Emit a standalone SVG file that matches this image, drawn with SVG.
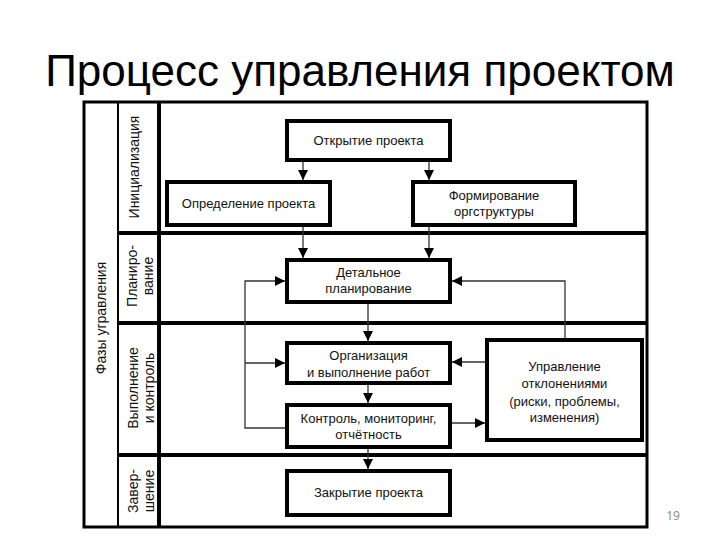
<svg xmlns="http://www.w3.org/2000/svg" width="720" height="540" viewBox="0 0 720 540">
<defs>
<marker id="arr" markerUnits="userSpaceOnUse" markerWidth="10" markerHeight="10" refX="10" refY="5" orient="auto">
<path d="M0,0 L10,5 L0,10 z" fill="#000"/>
</marker>
<style>
.box{fill:#fff;stroke:#000;stroke-width:4}
.t{font-family:"Liberation Sans",Arial,sans-serif;font-size:13px;fill:#111;text-anchor:middle}
.lane{font-family:"Liberation Sans",Arial,sans-serif;font-size:14px;fill:#111;text-anchor:middle}
.c{fill:none;stroke:#333;stroke-width:1.3}
.ca{fill:none;stroke:#333;stroke-width:1.3;marker-end:url(#arr)}
</style>
</defs>
<rect width="720" height="540" fill="#fff"/>
<text x="360" y="86" font-family="'Liberation Sans',Arial,sans-serif" font-size="44" text-anchor="middle" fill="#000">Процесс управления проектом</text>
<text x="673" y="520" font-family="'Open Sans','Liberation Sans',sans-serif" font-size="12" text-anchor="middle" fill="#888">19</text>

<g id="frame">
<rect x="84" y="102" width="563" height="425" fill="none" stroke="#000" stroke-width="3"/>
<line x1="118" y1="102" x2="118" y2="527" stroke="#000" stroke-width="2"/>
<line x1="159" y1="102" x2="159" y2="527" stroke="#000" stroke-width="4"/>
<line x1="118" y1="233" x2="647" y2="233" stroke="#000" stroke-width="4"/>
<line x1="118" y1="323" x2="647" y2="323" stroke="#000" stroke-width="4"/>
<line x1="118" y1="455" x2="647" y2="455" stroke="#000" stroke-width="4"/>
</g>

<g id="lanes">
<text class="lane" transform="translate(106,318) rotate(-90)">Фазы угравления</text>
<text class="lane" transform="translate(139,167) rotate(-90)">Инициализация</text>
<text class="lane" transform="translate(137,276) rotate(-90)">Планиро-</text>
<text class="lane" transform="translate(153,276) rotate(-90)">вание</text>
<text class="lane" transform="translate(138,388) rotate(-90)">Выполнение</text>
<text class="lane" transform="translate(154,388) rotate(-90)">и контроль</text>
<text class="lane" transform="translate(138,491) rotate(-90)">Завер-</text>
<text class="lane" transform="translate(154,491) rotate(-90)">шение</text>
</g>

<g id="connectors">
<line class="ca" x1="303" y1="162" x2="303" y2="180"/>
<line class="ca" x1="429" y1="162" x2="429" y2="180"/>
<line class="ca" x1="303" y1="227" x2="303" y2="258"/>
<line class="ca" x1="429" y1="227" x2="429" y2="258"/>
<line class="ca" x1="368" y1="304" x2="368" y2="341"/>
<line class="ca" x1="368" y1="385" x2="368" y2="403"/>
<line class="ca" x1="368" y1="449" x2="368" y2="469"/>
<polyline class="ca" points="285,428 245,428 245,281 285,281"/>
<line class="ca" x1="245" y1="363" x2="285" y2="363"/>
<line class="ca" x1="485" y1="362" x2="452" y2="362"/>
<polyline class="ca" points="565,338 565,281 452,281"/>
<line class="ca" x1="452" y1="423" x2="485" y2="423"/>
</g>

<g id="n-open">
<rect class="box" x="287" y="121" width="163" height="39"/>
<text class="t" x="368.5" y="145">Открытие проекта</text>
</g>
<g id="n-define">
<rect class="box" x="167" y="182" width="163" height="43"/>
<text class="t" x="248.5" y="208">Определение проекта</text>
</g>
<g id="n-org">
<rect class="box" x="413" y="182" width="162" height="43"/>
<text class="t" x="494" y="200">Формирование</text>
<text class="t" x="494" y="216">оргструктуры</text>
</g>
<g id="n-plan">
<rect class="box" x="287" y="260" width="163" height="42"/>
<text class="t" x="368.5" y="277">Детальное</text>
<text class="t" x="368.5" y="293">планирование</text>
</g>
<g id="n-exec">
<rect class="box" x="287" y="343" width="163" height="40"/>
<text class="t" x="368.5" y="360">Организация</text>
<text class="t" x="368.5" y="377">и выполнение работ</text>
</g>
<g id="n-control">
<rect class="box" x="287" y="405" width="163" height="42"/>
<text class="t" x="368.5" y="423">Контроль, мониторинг,</text>
<text class="t" x="368.5" y="439">отчётность</text>
</g>
<g id="n-dev">
<rect class="box" x="487" y="340" width="155" height="100"/>
<text class="t" x="564.5" y="371">Управление</text>
<text class="t" x="564.5" y="388">отклонениями</text>
<text class="t" x="564.5" y="406">(риски, проблемы,</text>
<text class="t" x="564.5" y="422">изменения)</text>
</g>
<g id="n-close">
<rect class="box" x="287" y="471" width="163" height="44"/>
<text class="t" x="368.5" y="497">Закрытие проекта</text>
</g>
</svg>
